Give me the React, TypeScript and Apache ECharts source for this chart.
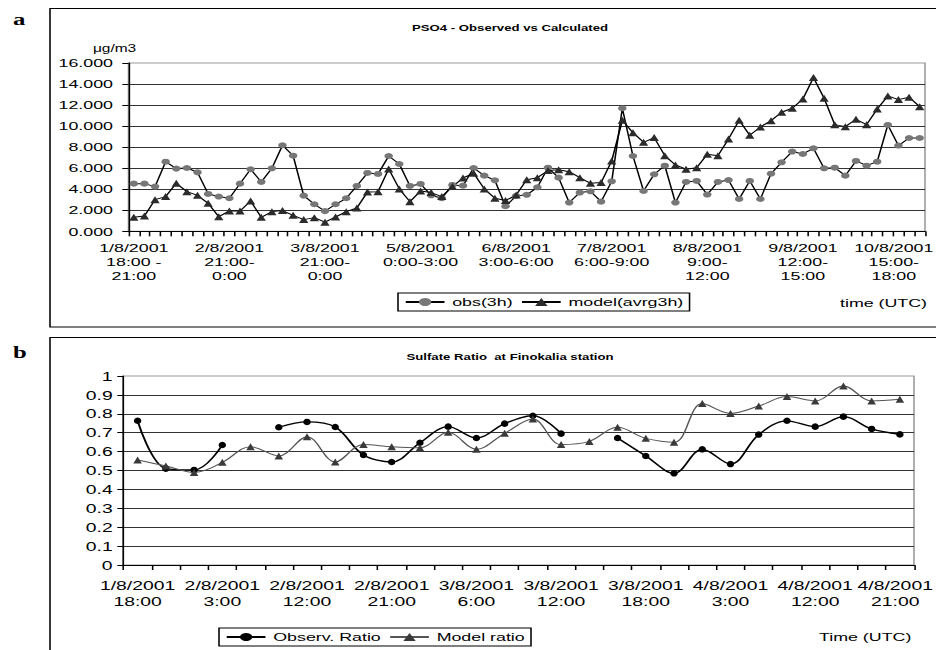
import React, { useEffect, useRef } from 'react';
import * as echarts from 'echarts';

// ---------- data (panel a) ----------
const tickLabelsA = [
  '1/8/2001\n18:00 -\n21:00',
  '2/8/2001\n21:00-\n0:00',
  '3/8/2001\n21:00-\n0:00',
  '5/8/2001\n0:00-3:00',
  '6/8/2001\n3:00-6:00',
  '7/8/2001\n6:00-9:00',
  '8/8/2001\n9:00-\n12:00',
  '9/8/2001\n12:00-\n15:00',
  '10/8/2001\n15:00-\n18:00',
];
const obsPSO4 = [
  4.53, 4.53, 4.25, 6.62, 5.96, 6.02, 5.61, 3.55, 3.3, 3.14,
  4.53, 5.9, 4.69, 5.99, 8.18, 7.19, 3.39, 2.57, 1.92, 2.57,
  3.14, 4.31, 5.55, 5.45, 7.16, 6.4, 4.31, 4.5, 3.42, 3.14,
  4.41, 4.34, 6.02, 5.29, 4.85, 2.38, 3.36, 3.47, 4.18, 6.05,
  5.1, 2.73, 3.68, 3.8, 2.82, 4.75, 11.7, 7.16, 3.84, 5.42,
  6.24, 2.73, 4.69, 4.79, 3.49, 4.69, 4.87, 3.07, 4.79, 3.07,
  5.48, 6.56, 7.58, 7.35, 7.89, 5.99, 6.05, 5.29, 6.69, 6.24,
  6.62, 10.11, 8.15, 8.87, 8.87,
];
const modelPSO4 = [
  1.33, 1.46, 3.01, 3.3, 4.56, 3.77, 3.42, 2.66, 1.39, 1.93,
  1.93, 2.88, 1.33, 1.87, 1.97, 1.52, 1.11, 1.3, 0.87, 1.36,
  1.87, 2.22, 3.74, 3.77, 5.93, 4.03, 2.82, 3.84, 3.68, 3.3,
  4.25, 5.07, 5.52, 4.03, 3.14, 2.92, 3.45, 4.91, 5.1, 5.77,
  5.86, 5.67, 5.1, 4.56, 4.63, 6.69, 10.55, 9.38, 8.46, 8.91,
  7.19, 6.31, 5.9, 6.05, 7.32, 7.19, 8.78, 10.55, 9.13, 9.92,
  10.52, 11.32, 11.7, 12.58, 14.61, 12.65, 10.14, 9.95, 10.65, 10.14,
  11.63, 12.87, 12.52, 12.74, 11.85,
];
const LABEL_EVERY_A = 9;

// ---------- data (panel b) ----------
const tickLabelsB = [
  '1/8/2001\n18:00',
  '2/8/2001\n3:00',
  '2/8/2001\n12:00',
  '2/8/2001\n21:00',
  '3/8/2001\n6:00',
  '3/8/2001\n12:00',
  '3/8/2001\n18:00',
  '4/8/2001\n3:00',
  '4/8/2001\n12:00',
  '4/8/2001\n21:00',
];
const obsRatio = [
  0.763, 0.51, 0.503, 0.635, null, 0.729, 0.757, 0.73, 0.582, 0.545,
  0.647, 0.732, 0.672, 0.748, 0.79, 0.695, null, 0.672, 0.577, 0.485,
  0.612, 0.534, 0.69, 0.763, 0.732, 0.785, 0.72, 0.691,
];
const modelRatio = [
  0.556, 0.524, 0.49, 0.543, 0.626, 0.577, 0.679, 0.545, 0.637, 0.626,
  0.621, 0.702, 0.612, 0.697, 0.772, 0.637, 0.654, 0.729, 0.67, 0.649,
  0.854, 0.802, 0.841, 0.891, 0.868, 0.947, 0.868, 0.877,
];
const LABEL_EVERY_B = 3;

// categories built from the tick labels (last labelled one nudged to stay inside the page)
const buildCats = (n: number, every: number, labels: string[], prefix: string) =>
  Array.from({ length: n }, (_, i) => {
    if (i % every !== 0) return `${prefix}${i}`;
    const k = i / every;
    if (k === labels.length - 1) {
      return { value: labels[k], textStyle: { padding: [0, 6, 0, 0] } };
    }
    return labels[k];
  });
const categoriesA = buildCats(obsPSO4.length, LABEL_EVERY_A, tickLabelsA, 'p');
const categoriesB = buildCats(obsRatio.length, LABEL_EVERY_B, tickLabelsB, 'q');

// the reference figure is horizontally stretched
const W = 604;
const S = 936 / W;
const X = (px: number) => px / S;
const FONT = '"Liberation Sans", Arial, Helvetica, sans-serif';

export default function App() {
  const ref = useRef<HTMLDivElement>(null);
  useEffect(() => {
    if (!ref.current) return;
    const chart = echarts.init(ref.current, undefined, { renderer: 'svg' });
    const axisText = (size: number, lh: number) => ({
      fontSize: size,
      lineHeight: lh,
      color: '#000',
      fontFamily: FONT,
    });
    chart.setOption({
      animation: false,
      backgroundColor: '#fff',
      title: [
        {
          text: 'PSO4 - Observed vs Calculated',
          left: X(510),
          top: 23,
          textAlign: 'center',
          padding: 0,
          textStyle: { fontSize: 8.5, fontWeight: 'bold', fontFamily: FONT, color: '#000' },
        },
        {
          text: 'Sulfate Ratio  at Finokalia station',
          left: X(510),
          top: 352,
          textAlign: 'center',
          padding: 0,
          textStyle: { fontSize: 8.5, fontWeight: 'bold', fontFamily: FONT, color: '#000' },
        },
      ],
      legend: [
        {
          data: ['obs(3h)', 'model(avrg3h)'],
          left: X(398),
          top: 293,
          orient: 'horizontal',
          itemWidth: 25,
          itemHeight: 10,
          itemGap: 5,
          padding: [3, 4],
          borderColor: '#000',
          borderWidth: 1,
          backgroundColor: '#fff',
          textStyle: { fontSize: 11.5, color: '#000', fontFamily: FONT },
        },
        {
          data: ['Observ. Ratio', 'Model ratio'],
          left: X(219),
          top: 628,
          orient: 'horizontal',
          itemWidth: 25,
          itemHeight: 10,
          itemGap: 5,
          padding: [3, 4],
          borderColor: '#000',
          borderWidth: 1,
          backgroundColor: '#fff',
          textStyle: { fontSize: 11.5, color: '#000', fontFamily: FONT },
        },
      ],
      grid: [
        {
          left: X(128.5),
          top: 63,
          width: X(925 - 128.5),
          height: 168.3,
          show: true,
          borderColor: '#999',
          borderWidth: 1,
          containLabel: false,
          outerBoundsMode: 'none',
        },
        {
          left: X(123.5),
          top: 376,
          width: X(914 - 123.5),
          height: 189,
          show: true,
          borderColor: '#999',
          borderWidth: 1,
          containLabel: false,
          outerBoundsMode: 'none',
        },
      ],
      xAxis: [
        {
          type: 'category',
          gridIndex: 0,
          data: categoriesA,
          boundaryGap: true,
          axisLine: { lineStyle: { color: '#000', width: 1 } },
          axisTick: { show: true, interval: 0, length: 5, lineStyle: { color: '#000' } },
          axisLabel: {
            interval: LABEL_EVERY_A - 1,
            margin: 9,
            ...axisText(11.5, 14),
            formatter: (v: string, i: number) => (i % LABEL_EVERY_A === 0 ? v : ''),
          },
          splitLine: { show: false },
        },
        {
          type: 'category',
          gridIndex: 1,
          data: categoriesB,
          boundaryGap: true,
          axisLine: { lineStyle: { color: '#000', width: 1 } },
          axisTick: { show: true, interval: 0, length: 5, lineStyle: { color: '#000' } },
          axisLabel: {
            interval: LABEL_EVERY_B - 1,
            margin: 12,
            ...axisText(12.5, 16.5),
            formatter: (v: string, i: number) => (i % LABEL_EVERY_B === 0 ? v : ''),
          },
          splitLine: { show: false },
        },
      ],
      yAxis: [
        {
          type: 'value',
          gridIndex: 0,
          min: 0,
          max: 16,
          interval: 2,
          name: 'μg/m3',
          nameLocation: 'end',
          nameGap: 9,
          nameTextStyle: { fontSize: 10, color: '#000', fontFamily: FONT, align: 'center', padding: [0, 18, 0, 0] },
          axisLine: { show: true, lineStyle: { color: '#000', width: 1 } },
          axisTick: { show: true, length: 4, lineStyle: { color: '#000' } },
          axisLabel: { margin: 10, ...axisText(11.5, 14), formatter: (v: number) => v.toFixed(3) },
          splitLine: { show: true, showMaxLine: false, lineStyle: { color: '#333', width: 1 } },
        },
        {
          type: 'value',
          gridIndex: 1,
          min: 0,
          max: 1,
          interval: 0.1,
          axisLine: { show: true, lineStyle: { color: '#000', width: 1 } },
          axisTick: { show: true, length: 4, lineStyle: { color: '#000' } },
          axisLabel: { margin: 7, ...axisText(12.5, 15) },
          splitLine: { show: true, showMaxLine: false, lineStyle: { color: '#333', width: 1 } },
        },
      ],
      series: [
        {
          name: 'obs(3h)',
          type: 'line',
          xAxisIndex: 0,
          yAxisIndex: 0,
          data: obsPSO4,
          symbol: 'circle',
          symbolSize: [5.5, 6],
          showAllSymbol: true,
          lineStyle: { color: '#000', width: 1 },
          itemStyle: { color: '#777', borderWidth: 0 },
        },
        {
          name: 'model(avrg3h)',
          type: 'line',
          xAxisIndex: 0,
          yAxisIndex: 0,
          data: modelPSO4,
          symbol: 'triangle',
          symbolSize: [6, 7],
          showAllSymbol: true,
          lineStyle: { color: '#000', width: 1 },
          itemStyle: { color: '#2b2b2b', borderWidth: 0 },
        },
        {
          name: 'Observ. Ratio',
          type: 'line',
          xAxisIndex: 1,
          yAxisIndex: 1,
          data: obsRatio,
          smooth: 0.35,
          connectNulls: false,
          symbol: 'circle',
          symbolSize: [4.8, 6.5],
          showAllSymbol: true,
          lineStyle: { color: '#000', width: 1.3 },
          itemStyle: { color: '#000', borderWidth: 0 },
        },
        {
          name: 'Model ratio',
          type: 'line',
          xAxisIndex: 1,
          yAxisIndex: 1,
          data: modelRatio,
          smooth: 0.35,
          symbol: 'triangle',
          symbolSize: [5.5, 7],
          showAllSymbol: true,
          lineStyle: { color: '#555', width: 1 },
          itemStyle: { color: '#3a3a3a', borderWidth: 0 },
        },
      ],
      graphic: [
        {
          type: 'rect',
          silent: true,
          shape: { x: X(50), y: 8.5, width: 700, height: 318.5 },
          style: { fill: 'none', stroke: '#000', lineWidth: 1 },
        },
        {
          type: 'rect',
          silent: true,
          shape: { x: X(50), y: 337.5, width: 700, height: 400 },
          style: { fill: 'none', stroke: '#000', lineWidth: 1 },
        },
        {
          type: 'text',
          x: X(13),
          y: 20,
          style: { text: 'a', fontSize: 16, fontWeight: 'bold', fontFamily: '"Liberation Serif", serif', fill: '#000', verticalAlign: 'middle' },
        },
        {
          type: 'text',
          x: X(13),
          y: 353,
          style: { text: 'b', fontSize: 16, fontWeight: 'bold', fontFamily: '"Liberation Serif", serif', fill: '#000', verticalAlign: 'middle' },
        },
        {
          type: 'text',
          x: X(840),
          y: 303,
          style: { text: 'time (UTC)', fontSize: 11.5, fontFamily: FONT, fill: '#000', verticalAlign: 'middle' },
        },
        {
          type: 'text',
          x: X(819),
          y: 637,
          style: { text: 'Time (UTC)', fontSize: 11.5, fontFamily: FONT, fill: '#000', verticalAlign: 'middle' },
        },
      ],
    });
    return () => chart.dispose();
  }, []);
  return (
    <div
      ref={ref}
      style={{
        position: 'absolute',
        left: 0,
        top: 0,
        width: W,
        height: 650,
        transform: `scaleX(${S})`,
        transformOrigin: '0 0',
        background: '#fff',
      }}
    />
  );
}
